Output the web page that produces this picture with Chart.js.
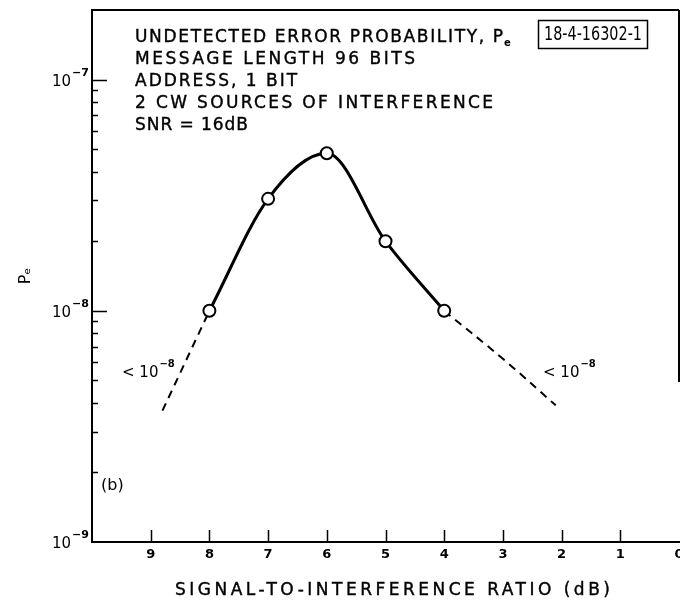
<!DOCTYPE html>
<html>
<head>
<meta charset="utf-8">
<script src="https://cdn.jsdelivr.net/npm/chart.js@4"></script>
<style>
  html, body { margin: 0; padding: 0; background: #fff; overflow: hidden; }
  #wrap { position: relative; width: 700px; height: 601px; }
</style>
</head>
<body>
<div id="wrap"><canvas id="chart"></canvas></div>
<script>
// measured points, solid curve
const sirDb = [8, 7, 6, 5, 4];
const errorProb = [1.0e-8, 3.05e-8, 4.8e-8, 2.0e-8, 1.0e-8];
// dashed extrapolations (< 10^-8 region)
const lowTailDb = [8.8, 8];
const lowTailProb = [3.7e-9, 1.0e-8];
const highTailDb = [4, 3, 2.1];
const highTailProb = [1.0e-8, 6.2e-9, 3.9e-9];

// axis labels
const xTickLabels = ["0", "1", "2", "3", "4", "5", "6", "7", "8", "9", ""];
const yDecadeExps = [-9, -8, -7];
const yDecadeSup = ["\u22129", "\u22128", "\u22127"];
const xTitle = "SIGNAL-TO-INTERFERENCE RATIO (dB)";

const noteLines = [
  "UNDETECTED ERROR PROBABILITY, P",
  "MESSAGE LENGTH 96 BITS",
  "ADDRESS, 1 BIT",
  "2 CW SOURCES OF INTERFERENCE",
  "SNR = 16dB"
];
const figureId = "18-4-16302-1";
const panelLabel = "(b)";

const FONT = '"DejaVu Sans", sans-serif';

function toPoints(xs, ys) {
  return xs.map((x, i) => ({ x: x, y: ys[i] }));
}

function drawSup(ctx, x, y, base, sup, size, supSize, rise) {
  ctx.font = size + "px " + FONT;
  ctx.fillText(base, x, y);
  const w = ctx.measureText(base).width;
  ctx.font = "bold " + supSize + "px " + FONT;
  ctx.fillText(sup, x + w + 1, y - rise);
}

// spread text out so it spans a given width (hand lettering is widely spaced)
function fitSpaced(ctx, text, x, y, width, bold) {
  ctx.letterSpacing = "0px";
  const natural = ctx.measureText(text).width;
  const gap = (width - natural) / (text.length - 1);
  ctx.letterSpacing = gap.toFixed(2) + "px";
  ctx.fillText(text, x, y);
  if (bold) ctx.strokeText(text, x, y);
  ctx.letterSpacing = "0px";
}

// squeeze text into a width (narrow stencil digits in the id box)
function fitSqueezed(ctx, text, cx, cy, width) {
  const w = ctx.measureText(text).width;
  const sx = Math.min(1, width / w);
  ctx.save();
  ctx.translate(cx, cy);
  ctx.scale(sx, 1);
  ctx.fillText(text, 0, 0);
  ctx.restore();
}

// inward ticks, frame and the lettering on the plot
const paperMarks = {
  id: "paperMarks",
  afterDraw(chart) {
    const { ctx, chartArea: a, scales: { x, y } } = chart;
    ctx.save();
    ctx.strokeStyle = "#000";
    ctx.fillStyle = "#000";

    ctx.lineWidth = 2;
    ctx.beginPath();
    ctx.moveTo(a.left, a.top);
    ctx.lineTo(a.right, a.top);
    ctx.moveTo(a.right, a.top);
    ctx.lineTo(a.right, 382);
    ctx.stroke();

    // log ticks 1..9 x 10^n, only up to 10^-7
    ctx.lineWidth = 1.5;
    ctx.beginPath();
    y.ticks.forEach(t => {
      const e = Math.floor(Math.log10(t.value) + 1e-9);
      const m = t.value / Math.pow(10, e);
      if (Math.abs(m - Math.round(m)) > 1e-6) return;
      if (e > -7 || (e === -7 && Math.round(m) > 1)) return;
      const major = Math.round(m) === 1;
      if (major && e === -9) return;
      const py = Math.round(y.getPixelForValue(t.value)) + 0.5;
      ctx.moveTo(a.left, py);
      ctx.lineTo(a.left + (major ? 15 : 6), py);
    });
    x.ticks.forEach(t => {
      if (t.value <= 0 || t.value >= 10) return;
      const px = Math.round(x.getPixelForValue(t.value)) + 0.5;
      ctx.moveTo(px, a.bottom);
      ctx.lineTo(px, a.bottom - 12);
    });
    ctx.stroke();

    // y decade labels 10^n
    ctx.textAlign = "left";
    ctx.textBaseline = "alphabetic";
    yDecadeExps.forEach((e, i) => {
      const py = y.getPixelForValue(Math.pow(10, e));
      drawSup(ctx, 52, py + 6, "10", yDecadeSup[i], 15, 11, 10);
    });

    // x axis title
    ctx.lineWidth = 0.4;
    ctx.font = "17px " + FONT;
    fitSpaced(ctx, xTitle, 175, 595, 435, true);

    // notes block, widths as lettered on the original
    const noteWidths = [368, 280, 162, 358, 113];
    ctx.font = "17px " + FONT;
    noteLines.forEach((line, i) => {
      fitSpaced(ctx, line, 135, 42 + i * 22, noteWidths[i], true);
    });
    ctx.font = "bold 10px " + FONT;
    ctx.fillText("e", 135 + noteWidths[0] + 1, 46);

    // figure number box
    ctx.lineWidth = 1.5;
    ctx.strokeRect(538.5, 20.5, 109, 28);
    ctx.font = '19px "Liberation Sans Narrow", "DejaVu Sans Condensed", sans-serif';
    ctx.textAlign = "center";
    ctx.textBaseline = "middle";
    fitSqueezed(ctx, figureId, 593, 35, 98);

    // tail labels
    ctx.textAlign = "left";
    ctx.textBaseline = "alphabetic";
    drawSup(ctx, 122, 377, "< 10", "\u22128", 15, 10, 10);
    drawSup(ctx, 543, 377, "< 10", "\u22128", 15, 10, 10);

    ctx.font = "16px " + FONT;
    ctx.fillText(panelLabel, 101, 490);
    ctx.restore();
  }
};

new Chart(document.getElementById("chart"), {
  type: "line",
  data: {
    datasets: [
      {
        data: toPoints(sirDb, errorProb),
        borderColor: "#000",
        borderWidth: 3,
        cubicInterpolationMode: "monotone",
        pointRadius: 6,
        pointBackgroundColor: "#fff",
        pointBorderColor: "#000",
        pointBorderWidth: 2
      },
      {
        data: toPoints(lowTailDb, lowTailProb),
        borderColor: "#000",
        borderWidth: 2,
        borderDash: [8, 6],
        pointRadius: 0
      },
      {
        data: toPoints(highTailDb, highTailProb),
        borderColor: "#000",
        borderWidth: 2,
        borderDash: [8, 6],
        tension: 0.4,
        pointRadius: 0
      }
    ]
  },
  options: {
    responsive: true,
    maintainAspectRatio: false,
    animation: false,
    layout: { padding: { top: 10, right: 21, bottom: 0, left: 0 } },
    plugins: {
      legend: { display: false },
      tooltip: { enabled: false }
    },
    scales: {
      x: {
        type: "linear",
        reverse: true,
        min: 0,
        max: 10,
        grid: { display: false, drawTicks: false },
        border: { display: true, color: "#000", width: 2 },
        ticks: {
          stepSize: 1,
          autoSkip: false,
          maxRotation: 0,
          padding: 5,
          color: "#000",
          font: { family: FONT, size: 13, weight: "bold" },
          callback: v => xTickLabels[v]
        },
        afterFit: s => { s.height = 59; }
      },
      y: {
        type: "logarithmic",
        min: 1e-9,
        max: 2e-7,
        grid: { display: false, drawTicks: false },
        border: { display: true, color: "#000", width: 2 },
        ticks: { autoSkip: false, display: false },
        title: {
          display: true,
          text: "P\u2091",
          color: "#000",
          font: { family: FONT, size: 16 },
          padding: { top: 16, bottom: 0 }
        },
        afterFit: s => { s.width = 92; }
      }
    }
  },
  plugins: [paperMarks]
});
</script>
</body>
</html>
